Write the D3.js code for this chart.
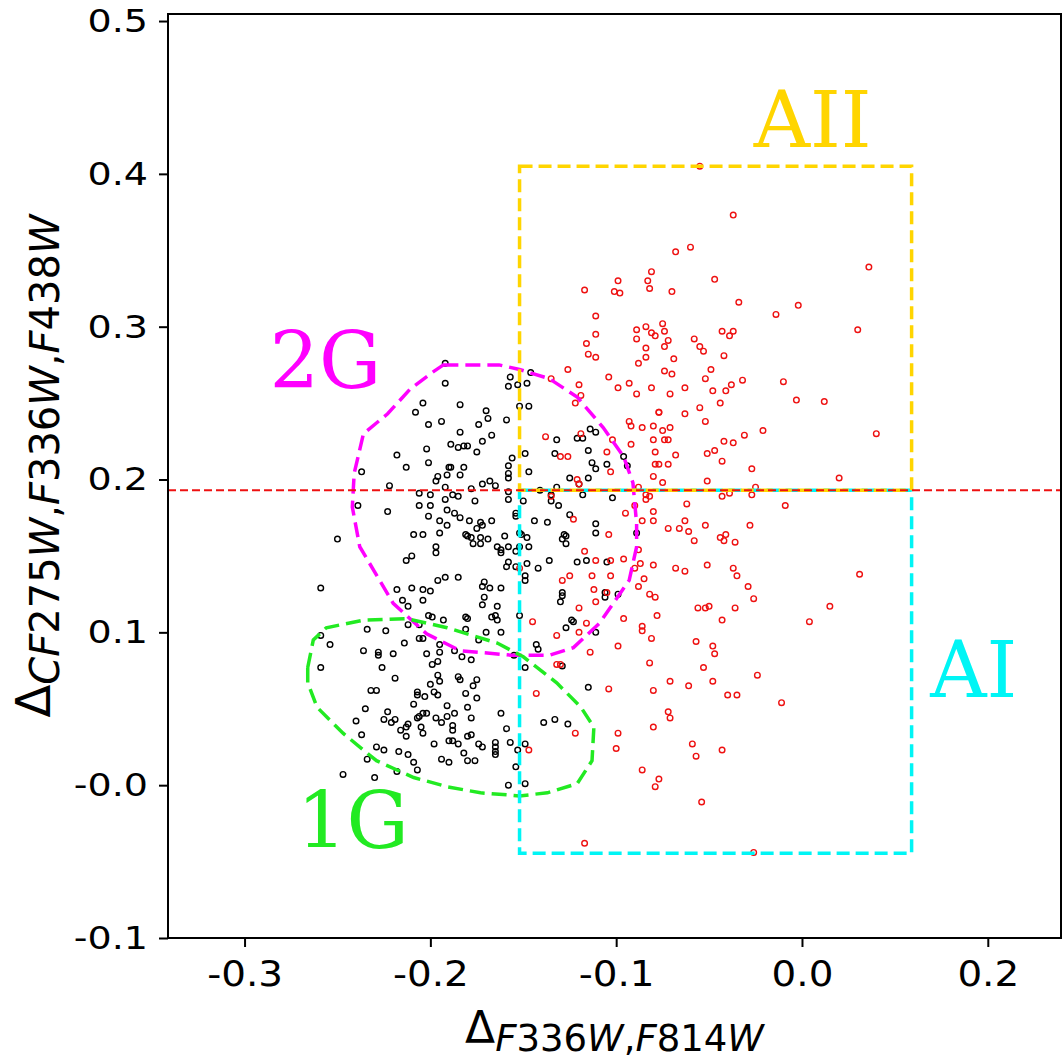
<!DOCTYPE html>
<html>
<head>
<meta charset="utf-8">
<script src="https://cdn.jsdelivr.net/npm/d3@7"></script>
<style>
  html, body { margin: 0; padding: 0; background: #fff; }
  svg { display: block; }
</style>
</head>
<body>
<svg id="chart" width="1063" height="1062"></svg>
<script>
// Chromosome map: Delta F336W,F814W vs Delta C F275W,F336W,F438W

const xTicks = [-0.3, -0.2, -0.1, 0.0, 0.1];
const xTickLabels = ['-0.3', '-0.2', '-0.1', '0.0', '0.2'];
const yTicks = [0.5, 0.4, 0.3, 0.2, 0.1, 0.0, -0.1];
const yTickLabels = ['0.5', '0.4', '0.3', '0.2', '0.1', '-0.0', '-0.1'];

// separation line and the two boxes
const yCut = 0.193;
const boxX = [-0.152, 0.059];
const boxAII = [yCut, 0.405];
const boxAI = [-0.0445, yCut];

// black stars (1G / 2G selection)
const blackStars = [
  [-0.192,0.276],[-0.192,0.263],[-0.157,0.267],[-0.146,0.270],[-0.158,0.261],[-0.153,0.262],[-0.148,0.263],
  [-0.152,0.248],[-0.147,0.248],[-0.184,0.249],[-0.204,0.250],[-0.208,0.244],[-0.170,0.245],[-0.169,0.240],
  [-0.174,0.236],[-0.159,0.239],[-0.167,0.229],[-0.172,0.225],[-0.175,0.218],[-0.194,0.238],[-0.201,0.236],
  [-0.184,0.231],[-0.189,0.223],[-0.185,0.221],[-0.182,0.222],[-0.180,0.222],[-0.202,0.220],[-0.218,0.216],
  [-0.201,0.211],[-0.213,0.208],[-0.190,0.208],[-0.189,0.208],[-0.182,0.208],[-0.184,0.203],[-0.191,0.203],
  [-0.196,0.202],[-0.197,0.199],[-0.156,0.214],[-0.149,0.217],[-0.158,0.209],[-0.158,0.204],[-0.158,0.201],
  [-0.147,0.205],[-0.172,0.197],[-0.168,0.199],[-0.165,0.196],[-0.178,0.194],[-0.192,0.195],[-0.237,0.205],
  [-0.222,0.196],[-0.206,0.191],[-0.200,0.190],[-0.188,0.190],[-0.185,0.189],[-0.192,0.187],[-0.176,0.186],
  [-0.158,0.192],[-0.158,0.187],[-0.150,0.186],[-0.141,0.193],[-0.132,0.195],[-0.135,0.190],[-0.135,0.186],
  [-0.131,0.183],[-0.125,0.201],[-0.115,0.201],[-0.132,0.226],[-0.133,0.217],[-0.121,0.227],[-0.118,0.227],
  [-0.115,0.219],[-0.114,0.233],[-0.111,0.231],[-0.105,0.210],[-0.113,0.211],[-0.111,0.207],[-0.094,0.209],
  [-0.096,0.215],[-0.118,0.190],[-0.120,0.197],[-0.102,0.188],[-0.239,0.183],[-0.223,0.179],[-0.206,0.183],
  [-0.200,0.183],[-0.201,0.176],[-0.191,0.180],[-0.187,0.178],[-0.184,0.175],[-0.195,0.173],[-0.191,0.170],
  [-0.195,0.165],[-0.179,0.173],[-0.173,0.172],[-0.172,0.170],[-0.167,0.173],[-0.175,0.168],[-0.154,0.178],
  [-0.154,0.176],[-0.144,0.173],[-0.137,0.172],[-0.125,0.177],[-0.111,0.171],[-0.111,0.165],[-0.089,0.165],
  [-0.209,0.164],[-0.204,0.164],[-0.181,0.164],[-0.180,0.163],[-0.178,0.162],[-0.177,0.158],[-0.173,0.162],
  [-0.169,0.161],[-0.173,0.158],[-0.160,0.163],[-0.164,0.156],[-0.162,0.154],[-0.162,0.152],[-0.158,0.156],
  [-0.154,0.153],[-0.152,0.156],[-0.152,0.165],[-0.151,0.164],[-0.148,0.162],[-0.147,0.156],[-0.128,0.164],
  [-0.127,0.163],[-0.129,0.161],[-0.127,0.158],[-0.250,0.161],[-0.213,0.147],[-0.210,0.150],[-0.197,0.156],
  [-0.197,0.152],[-0.158,0.146],[-0.159,0.143],[-0.154,0.143],[-0.148,0.145],[-0.142,0.142],[-0.136,0.147],
  [-0.121,0.146],[-0.116,0.147],[-0.105,0.146],[-0.149,0.137],[-0.149,0.134],[-0.196,0.134],[-0.192,0.136],
  [-0.185,0.136],[-0.218,0.128],[-0.215,0.121],[-0.210,0.129],[-0.204,0.128],[-0.200,0.127],[-0.204,0.121],
  [-0.212,0.117],[-0.171,0.133],[-0.172,0.130],[-0.168,0.129],[-0.162,0.129],[-0.171,0.123],[-0.172,0.118],
  [-0.164,0.117],[-0.259,0.129],[-0.129,0.126],[-0.129,0.124],[-0.130,0.120],[-0.106,0.123],[-0.106,0.126],
  [-0.099,0.125],[-0.201,0.111],[-0.199,0.110],[-0.193,0.108],[-0.181,0.110],[-0.180,0.109],[-0.167,0.110],
  [-0.165,0.111],[-0.164,0.108],[-0.212,0.105],[-0.206,0.105],[-0.181,0.102],[-0.170,0.100],[-0.162,0.100],
  [-0.152,0.111],[-0.124,0.108],[-0.123,0.107],[-0.127,0.103],[-0.111,0.100],[-0.259,0.098],[-0.254,0.092],
  [-0.234,0.102],[-0.224,0.101],[-0.214,0.093],[-0.206,0.096],[-0.204,0.096],[-0.195,0.092],[-0.195,0.087],
  [-0.202,0.086],[-0.187,0.088],[-0.183,0.084],[-0.174,0.095],[-0.178,0.082],[-0.236,0.088],[-0.228,0.087],
  [-0.228,0.085],[-0.220,0.086],[-0.155,0.085],[-0.149,0.077],[-0.143,0.092],[-0.142,0.089],[-0.129,0.078],
  [-0.259,0.077],[-0.226,0.077],[-0.219,0.070],[-0.196,0.081],[-0.199,0.079],[-0.196,0.072],[-0.195,0.068],
  [-0.200,0.066],[-0.185,0.071],[-0.184,0.069],[-0.177,0.065],[-0.175,0.069],[-0.232,0.062],[-0.229,0.062],
  [-0.207,0.061],[-0.207,0.059],[-0.203,0.058],[-0.198,0.061],[-0.196,0.059],[-0.181,0.060],[-0.175,0.057],
  [-0.115,0.064],
  [-0.235,0.050],[-0.240,0.042],[-0.237,0.033],[-0.223,0.048],[-0.225,0.043],[-0.221,0.041],[-0.219,0.043],
  [-0.216,0.036],[-0.213,0.038],[-0.212,0.040],[-0.213,0.032],[-0.229,0.025],[-0.225,0.023],[-0.217,0.022],
  [-0.212,0.020],[-0.209,0.015],[-0.207,0.010],[-0.234,0.017],[-0.247,0.007],[-0.230,0.005],[-0.218,0.009],
  [-0.209,0.053],[-0.207,0.044],[-0.206,0.045],[-0.204,0.047],[-0.202,0.047],[-0.205,0.038],[-0.204,0.034],
  [-0.197,0.044],[-0.194,0.041],[-0.191,0.045],[-0.191,0.052],[-0.187,0.047],[-0.188,0.039],[-0.188,0.036],
  [-0.190,0.029],[-0.188,0.029],[-0.198,0.027],[-0.194,0.017],[-0.190,0.015],[-0.185,0.027],[-0.182,0.021],
  [-0.180,0.016],[-0.180,0.032],[-0.178,0.033],[-0.178,0.044],[-0.180,0.051],[-0.176,0.016],[-0.174,0.027],
  [-0.172,0.025],[-0.165,0.028],[-0.165,0.025],[-0.165,0.022],[-0.165,0.020],[-0.162,0.047],[-0.159,0.037],
  [-0.157,0.028],[-0.153,0.023],[-0.149,0.027],[-0.154,0.012],[-0.158,0.000],[-0.149,0.001],[-0.139,0.041],
  [-0.133,0.043],[-0.126,0.040]
];

// red stars (anomalous)
const redStars = [
  [-0.116,0.289],[-0.115,0.282],[-0.111,0.280],[-0.084,0.286],[-0.084,0.280],[-0.088,0.276],[-0.126,0.272],
  [-0.104,0.267],[-0.099,0.260],[-0.093,0.263],[-0.089,0.256],[-0.081,0.260],[-0.120,0.262],[-0.119,0.255],
  [-0.122,0.250],[-0.135,0.266],[-0.077,0.244],[-0.093,0.238],[-0.092,0.235],[-0.086,0.234],[-0.080,0.235],
  [-0.138,0.228],[-0.130,0.215],[-0.126,0.215],[-0.105,0.218],[-0.102,0.226],[-0.092,0.223],[-0.080,0.226],
  [-0.079,0.218],[-0.119,0.230],[-0.103,0.205],[-0.080,0.202],[-0.079,0.210],[-0.077,0.210],[-0.121,0.200],
  [-0.120,0.197],[-0.088,0.195],[-0.135,0.189],[-0.084,0.190],[-0.082,0.189],[-0.084,0.187],[-0.090,0.183],
  [-0.095,0.178],[-0.080,0.179],[-0.080,0.173],[-0.086,0.173],[-0.123,0.174],[-0.104,0.164],[-0.088,0.154],
  [-0.117,0.153],[-0.111,0.147],[-0.103,0.147],[-0.096,0.148],[-0.090,0.142],[-0.087,0.145],[-0.080,0.144],
  [-0.152,0.142],[-0.129,0.134],[-0.125,0.137],[-0.113,0.137],[-0.103,0.137],[-0.085,0.135],[-0.120,0.116],
  [-0.112,0.128],[-0.111,0.120],[-0.105,0.126],[-0.088,0.130],[-0.082,0.125],[-0.079,0.123],[-0.078,0.111],
  [-0.145,0.107],[-0.132,0.098],[-0.116,0.106],[-0.120,0.100],[-0.096,0.109],[-0.086,0.104],[-0.086,0.101],
  [-0.081,0.096],[-0.114,0.087],[-0.099,0.091],[-0.132,0.079],[-0.130,0.079],[-0.082,0.080],[-0.143,0.060],
  [-0.104,0.063],[-0.080,0.062],
  [-0.055,0.405],[-0.037,0.373],[-0.068,0.349],[-0.060,0.352],[0.036,0.339],[-0.081,0.336],[-0.099,0.330],
  [-0.083,0.330],[-0.082,0.325],[-0.101,0.323],[-0.098,0.322],[-0.117,0.324],[-0.070,0.323],[-0.047,0.331],
  [-0.034,0.316],[-0.014,0.308],[-0.002,0.314],[0.030,0.298],[-0.111,0.307],[-0.111,0.295],[-0.089,0.298],
  [-0.089,0.292],[-0.084,0.300],[-0.081,0.296],[-0.079,0.294],[-0.075,0.302],[-0.074,0.297],[-0.072,0.291],
  [-0.074,0.287],[-0.069,0.279],[-0.058,0.292],[-0.055,0.287],[-0.053,0.284],[-0.043,0.297],[-0.037,0.297],
  [-0.039,0.294],[-0.042,0.281],[-0.049,0.272],[-0.052,0.266],[-0.048,0.258],[-0.041,0.258],[-0.038,0.262],
  [-0.032,0.265],[-0.074,0.271],[-0.070,0.269],[-0.071,0.256],[-0.063,0.260],[-0.010,0.264],[-0.003,0.252],
  [0.012,0.251],[-0.055,0.247],[-0.044,0.250],[-0.077,0.244],[-0.063,0.243],[-0.052,0.238],[-0.075,0.232],
  [-0.071,0.234],[-0.074,0.226],[-0.072,0.226],[-0.021,0.232],[-0.031,0.229],[-0.042,0.225],[-0.037,0.224],
  [-0.047,0.219],[-0.051,0.217],[0.040,0.230],[-0.068,0.216],[-0.072,0.210],[-0.043,0.212],[-0.027,0.207],
  [-0.075,0.198],[-0.051,0.199],[0.020,0.201],[-0.025,0.195],[-0.027,0.190],[-0.039,0.191],[-0.043,0.189],
  [-0.062,0.184],[-0.009,0.183],[-0.072,0.168],[-0.066,0.168],[-0.063,0.173],[-0.061,0.166],[-0.052,0.170],
  [-0.041,0.164],[-0.044,0.162],[-0.028,0.170],
  [0.031,0.138],[0.015,0.117],[0.004,0.107],[-0.068,0.142],[-0.063,0.140],[-0.051,0.144],[-0.037,0.142],
  [-0.035,0.137],[-0.029,0.130],[-0.026,0.122],[-0.056,0.116],[-0.052,0.116],[-0.050,0.117],[-0.036,0.116],
  [-0.043,0.108],[-0.057,0.094],[-0.048,0.091],[-0.047,0.086],[-0.053,0.077],[-0.024,0.072],[-0.071,0.068],
  [-0.061,0.065],[-0.048,0.068],[-0.040,0.059],[-0.035,0.059],[-0.011,0.054],[-0.072,0.048],[-0.071,0.044],
  [-0.059,0.027],[-0.057,0.019],[-0.043,0.023],[-0.054,-0.011],[-0.026,-0.044],[-0.058,0.160],[-0.042,0.160],
  [-0.036,0.159],[-0.080,0.038],[-0.086,0.010],[-0.077,0.004],[-0.079,-0.001],
  [-0.122,0.034],[-0.099,0.034],[-0.100,0.024],[-0.147,0.023],[-0.117,-0.038]
];

// hand-drawn population contours
const contour2G = [
  [-0.193,0.275],[-0.173,0.275],[-0.163,0.275],[-0.152,0.272],[-0.136,0.266],[-0.121,0.254],[-0.107,0.234],
  [-0.096,0.215],[-0.091,0.198],[-0.089,0.171],[-0.089,0.156],[-0.093,0.134],[-0.109,0.106],[-0.123,0.090],
  [-0.136,0.085],[-0.156,0.085],[-0.184,0.088],[-0.202,0.099],[-0.220,0.119],[-0.238,0.156],[-0.242,0.182],
  [-0.241,0.204],[-0.236,0.230],[-0.223,0.243],[-0.211,0.259],[-0.199,0.270]
];
const contour1G = [
  [-0.266,0.077],[-0.263,0.095],[-0.256,0.103],[-0.236,0.108],[-0.213,0.109],[-0.191,0.103],[-0.164,0.093],
  [-0.150,0.084],[-0.132,0.067],[-0.119,0.051],[-0.112,0.038],[-0.113,0.016],[-0.121,0.001],[-0.137,-0.005],
  [-0.152,-0.007],[-0.173,-0.005],[-0.191,-0.001],[-0.209,0.005],[-0.229,0.016],[-0.247,0.034],[-0.261,0.051],
  [-0.266,0.067]
];

const groupLabels = [
  { text: '2G', x: -0.2866, y: 0.260, color: '#ff00ff' },
  { text: '1G', x: -0.2718, y: -0.041, color: '#22ea22' },
  { text: 'AII', x: -0.026, y: 0.4175, color: '#ffd500' },
  { text: 'AI', x: 0.069, y: 0.058, color: '#00f5f5' }
];

const svg = d3.select('#chart');
const m = { left: 168, right: 1061, top: 14, bottom: 938 };

const x = d3.scaleLinear().domain([-0.3412, 0.1394]).range([m.left, m.right]);
const y = d3.scaleLinear().domain([-0.1, 0.5046]).range([m.bottom, m.top]);

const plot = svg.append('g');
plot.append('clipPath').attr('id', 'clip')
    .append('rect').attr('x', m.left).attr('y', m.top).attr('width', m.right - m.left).attr('height', m.bottom - m.top);
const inner = plot.append('g').attr('clip-path', 'url(#clip)');

// points
inner.selectAll('.black')
    .data(blackStars)
    .enter()
    .append('circle')
    .attr('cx', d => x(d[0]))
    .attr('cy', d => y(d[1]))
    .attr('r', 2.8)
    .attr('fill', 'none')
    .attr('stroke', '#000')
    .attr('stroke-width', 1.4);

inner.selectAll('.red')
    .data(redStars)
    .enter()
    .append('circle')
    .attr('cx', d => x(d[0]))
    .attr('cy', d => y(d[1]))
    .attr('r', 2.8)
    .attr('fill', 'none')
    .attr('stroke', '#ee1111')
    .attr('stroke-width', 1.4);

// contours
const line = d3.line().x(d => x(d[0])).y(d => y(d[1])).curve(d3.curveLinearClosed);
inner.append('path').attr('d', line(contour2G))
    .attr('fill', 'none').attr('stroke', '#ff00ff').attr('stroke-width', 3.5).attr('stroke-dasharray', '15,7');
inner.append('path').attr('d', line(contour1G))
    .attr('fill', 'none').attr('stroke', '#22ea22').attr('stroke-width', 3.5).attr('stroke-dasharray', '15,7');

// boxes
inner.append('rect')
    .attr('x', x(boxX[0])).attr('y', y(boxAI[1]))
    .attr('width', x(boxX[1]) - x(boxX[0])).attr('height', y(boxAI[0]) - y(boxAI[1]))
    .attr('fill', 'none').attr('stroke', '#00f5f5').attr('stroke-width', 3.5).attr('stroke-dasharray', '13,6');
inner.append('rect')
    .attr('x', x(boxX[0])).attr('y', y(boxAII[1]))
    .attr('width', x(boxX[1]) - x(boxX[0])).attr('height', y(boxAII[0]) - y(boxAII[1]))
    .attr('fill', 'none').attr('stroke', '#ffd500').attr('stroke-width', 3.5).attr('stroke-dasharray', '13,6');

inner.append('line')
    .attr('x1', m.left).attr('x2', m.right)
    .attr('y1', y(yCut)).attr('y2', y(yCut))
    .attr('stroke', '#ee1111').attr('stroke-width', 2).attr('stroke-dasharray', '8,4');

// group names
inner.selectAll('.glabel')
    .data(groupLabels)
    .enter()
    .append('text')
    .attr('x', d => x(d.x))
    .attr('y', d => y(d.y))
    .attr('fill', d => d.color)
    .attr('font-family', 'DejaVu Serif')
    .attr('font-size', '78px')
    .text(d => d.text);

// frame
plot.append('rect')
    .attr('x', m.left).attr('y', m.top).attr('width', m.right - m.left).attr('height', m.bottom - m.top)
    .attr('fill', 'none').attr('stroke', '#000').attr('stroke-width', 2);

// axes
const xAxis = svg.append('g')
    .attr('transform', `translate(0,${m.bottom})`)
    .call(d3.axisBottom(x).tickValues(xTicks).tickFormat((d, i) => xTickLabels[i]).tickSize(9).tickPadding(13));
const yAxis = svg.append('g')
    .attr('transform', `translate(${m.left},0)`)
    .call(d3.axisLeft(y).tickValues(yTicks).tickFormat((d, i) => yTickLabels[i]).tickSize(9).tickPadding(11));

[xAxis, yAxis].forEach(a => {
    a.select('.domain').remove();
    a.selectAll('line').attr('stroke', '#000').attr('stroke-width', 2);
    a.selectAll('text').attr('fill', '#000').attr('font-family', 'DejaVu Sans');
});
// tick text in the picture is a bit wider than plain DejaVu Sans
xAxis.selectAll('text').attr('font-size', '36px').attr('transform', 'scale(1.08,1)');
const ySx = 1.17;
yAxis.selectAll('text')
    .attr('font-size', '32.5px')
    .attr('x', -20 / ySx)
    .attr('transform', `scale(${ySx},1)`);

// mathtext-like label: letters italic, digits and commas upright
function mathLabel(sel, sub, big, small, shift) {
    sel.append('tspan').attr('font-size', big + 'px').text('\u0394');
    const parts = sub.match(/[A-Za-z]+|[^A-Za-z]+/g);
    parts.forEach((p, i) => {
        const t = sel.append('tspan')
            .attr('font-size', small + 'px')
            .attr('font-style', /[A-Za-z]/.test(p) ? 'italic' : 'normal')
            .text(p);
        if (i === 0) t.attr('dy', shift);
    });
}

const xLabel = svg.append('text')
    .attr('x', (m.left + m.right) / 2)
    .attr('y', 1043)
    .attr('text-anchor', 'middle')
    .attr('font-family', 'DejaVu Sans')
    .attr('fill', '#000');
mathLabel(xLabel, 'F336W,F814W', 44, 37, 8);

const yLabel = svg.append('text')
    .attr('transform', 'translate(50,466) rotate(-90)')
    .attr('text-anchor', 'middle')
    .attr('font-family', 'DejaVu Sans')
    .attr('fill', '#000');
mathLabel(yLabel, 'CF275W,F336W,F438W', 48, 40, 9);
</script>
</body>
</html>
